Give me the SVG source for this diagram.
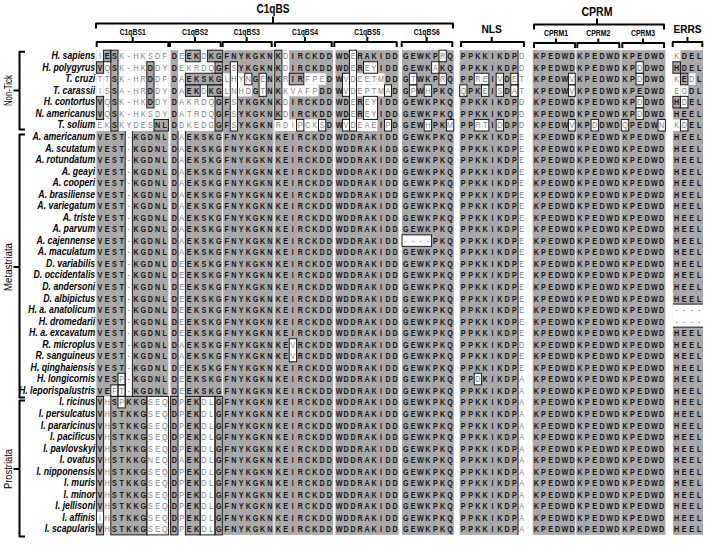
<svg xmlns="http://www.w3.org/2000/svg" xmlns:xlink="http://www.w3.org/1999/xlink" width="708" height="546" viewBox="0 0 708 546">
<style>
.g{fill:#a9a9a9}
.wb{fill:#fff}
.o{fill:none;stroke:#1a1a1a;stroke-width:1}
.s{font-family:"Liberation Sans",Arial,sans-serif;font-size:9px;font-weight:bold;fill:#151515;text-anchor:middle}
.w{fill:#808080;font-weight:normal}
.sp{font-family:"Liberation Sans",Arial,sans-serif;font-size:10.3px;font-weight:bold;font-style:italic;fill:#000;text-anchor:end}
.br{fill:none;stroke:#000;stroke-width:2;stroke-linejoin:round}
.h{font-family:"Liberation Sans",Arial,sans-serif;font-weight:bold;fill:#000;text-anchor:middle}
.gl{font-family:"Liberation Sans",Arial,sans-serif;font-size:10.5px;fill:#000;text-anchor:middle}
</style>
<defs>
<text id="ra" class="s" y="0" x="125 134 143 152 161 170 179 188 197 206 217.9 227.1 236.4 245.6 254.9 264.1 273.4 283.4 292.4 301.4 310.4 319.4 328.4 337.4 347.9 357 366.1 375.3 384.4 393.5 402.6 411.8 423.8 432.5 441.3 450 458.8 467.5 476.3 485 493.8 507.1 516.4 525.6 534.9 544.1 553.4 562.6 579.1 588.3 597.4 606.5 615.6 624.8 633.9 643 652.1 670.4 679.3 688.3 697.1 706.1 715 724.9 734.1 743.4 752.6 761.9 771.1 781.3 790.4 799.6 808.8 818 827.1 845.9 855.3 864.6 874.1">VEST<tspan class="w">-</tspan>KGDNLD<tspan class="w">A</tspan>EKSKGFNYKGKNKEIRCKDDWDDRAKIDDGEWKPKQPPKKIKDP<tspan class="w">E</tspan>KPEDWDKPEDWDKPEDWDHEEL</text>
<text id="rd" class="s" y="0" x="125 134 143 152 161 170 179 188 197 206 217.9 227.1 236.4 245.6 254.9 264.1 273.4 283.4 292.4 301.4 310.4 319.4 328.4 337.4 347.9 357 366.1 375.3 384.4 393.5 402.6 411.8 423.8 432.5 441.3 450 458.8 467.5 476.3 485 493.8 507.1 516.4 525.6 534.9 544.1 553.4 562.6 579.1 588.3 597.4 606.5 615.6 624.8 633.9 643 652.1 670.4 679.3 688.3 697.1 706.1 715 724.9 734.1 743.4 752.6 761.9 771.1 781.3 790.4 799.6 808.8 818 827.1 845.9 855.3 864.6 874.1">VEST<tspan class="w">-</tspan>KGDNLD<tspan class="w">E</tspan>EKSKGFNYKGKNKEIRCKDDWDDRAKIDDGEWKPKQPPKKIKDP<tspan class="w">E</tspan>KPEDWDKPEDWDKPEDWDHEEL</text>
<text id="ri" class="s" y="0" x="125 134 143 152 161 170 179 188 197 206 217.9 227.1 236.4 245.6 254.9 264.1 273.4 283.4 292.4 301.4 310.4 319.4 328.4 337.4 347.9 357 366.1 375.3 384.4 393.5 402.6 411.8 423.8 432.5 441.3 450 458.8 467.5 476.3 485 493.8 507.1 516.4 525.6 534.9 544.1 553.4 562.6 579.1 588.3 597.4 606.5 615.6 624.8 633.9 643 652.1 670.4 679.3 688.3 697.1 706.1 715 724.9 734.1 743.4 752.6 761.9 771.1 781.3 790.4 799.6 808.8 818 827.1 845.9 855.3 864.6 874.1">V<tspan class="w">H</tspan>STKKG<tspan class="w">SEQ</tspan>D<tspan class="w">P</tspan>EK<tspan class="w">DL</tspan>GFNYKGKNKEIRCKDDWDDRAKIDDGEWKPKQPPKKIKDP<tspan class="w">A</tspan>KPEDWDKPEDWDKPEDWDHEEL</text>
</defs>
<rect width="708" height="546" fill="#fff"/>
<g id="headers">
<text class="h" x="273" y="12.7" font-size="13" textLength="33" lengthAdjust="spacingAndGlyphs">C1qBS</text>
<text class="h" x="597" y="16" font-size="13" textLength="31" lengthAdjust="spacingAndGlyphs">CPRM</text>
<text class="h" x="491.7" y="32.5" font-size="11.5" textLength="20.5" lengthAdjust="spacingAndGlyphs">NLS</text>
<text class="h" x="687.5" y="33.3" font-size="11.5" textLength="28" lengthAdjust="spacingAndGlyphs">ERRS</text>
<g font-size="9">
<text class="h" x="132.7" y="35" textLength="26" lengthAdjust="spacingAndGlyphs">C1qBS1</text>
<text class="h" x="195" y="35" textLength="26" lengthAdjust="spacingAndGlyphs">C1qBS2</text>
<text class="h" x="246.7" y="35" textLength="26" lengthAdjust="spacingAndGlyphs">C1qBS3</text>
<text class="h" x="305" y="35" textLength="26" lengthAdjust="spacingAndGlyphs">C1qBS4</text>
<text class="h" x="367.3" y="35" textLength="26" lengthAdjust="spacingAndGlyphs">C1qBS5</text>
<text class="h" x="426.7" y="35" textLength="26" lengthAdjust="spacingAndGlyphs">C1qBS6</text>
</g>
<g font-size="8.5">
<text class="h" x="556" y="35.5" textLength="24" lengthAdjust="spacingAndGlyphs">CPRM1</text>
<text class="h" x="598.3" y="35.5" textLength="24" lengthAdjust="spacingAndGlyphs">CPRM2</text>
<text class="h" x="643" y="35.5" textLength="24" lengthAdjust="spacingAndGlyphs">CPRM3</text>
</g>
</g>
<g id="brackets" class="br">
<path d="M96,28.5 V23.5 H453 V28.5 M273,23.5 V16.5"/>
<path d="M534,29.5 V24.5 H664 V29.5 M597,24.5 V18.5"/>
<path d="M96.7,47 V42 H168.3 V47 M132.7,42 V37"/>
<path d="M170,47 V42 H220.7 V47 M195,42 V37"/>
<path d="M222.7,47 V42 H271.7 V47 M246.7,42 V37"/>
<path d="M275,47 V42 H331.7 V47 M305,42 V37"/>
<path d="M334.3,47 V42 H396.7 V47 M367.3,42 V37"/>
<path d="M401.7,47 V42 H452.3 V47 M426.7,42 V37"/>
<path d="M461,47 V42 H524 V47 M491.7,42 V37"/>
<path d="M534,48 V43 H575 V48 M556,43 V38.5"/>
<path d="M577.3,48 V43 H619.3 V48 M598.3,43 V38.5"/>
<path d="M622.3,48 V43 H664 V48 M643,43 V38.5"/>
<path d="M672.7,47 V42 H702.3 V47 M687.5,42 V37"/>
<path d="M25,51.7 H19.5 V129.5 H25 M19.5,90.6 H13.5"/>
<path d="M25,134.5 H19.5 V397.5 H25 M19.5,267 H13.5"/>
<path d="M25,400.5 H19.5 V536.5 H25 M19.5,469 H13.5"/>
</g>
<g id="groups">
<text class="gl" transform="translate(11.7,90.6) rotate(-90)" textLength="31" lengthAdjust="spacingAndGlyphs">Non-Tick</text>
<text class="gl" transform="translate(11.7,267) rotate(-90)" textLength="48" lengthAdjust="spacingAndGlyphs">Metastriata</text>
<text class="gl" transform="translate(11.7,469) rotate(-90)" textLength="40" lengthAdjust="spacingAndGlyphs">Prostriata</text>
</g>
<g id="shading">
<rect class="g" x="96.4" y="50.2" width="72" height="484.68"/>
<rect class="g" x="170.6" y="50.2" width="51.3" height="484.68"/>
<rect class="g" x="223.1" y="50.2" width="50.4" height="484.68"/>
<rect class="g" x="274.65" y="50.2" width="58.4" height="484.68"/>
<rect class="g" x="335.5" y="50.2" width="63" height="484.68"/>
<rect class="g" x="402" y="50.2" width="51.8" height="484.68"/>
<rect class="g" x="459.65" y="50.2" width="58.4" height="484.68"/>
<rect class="g" x="532.7" y="50.2" width="42.6" height="484.68"/>
<rect class="g" x="576.3" y="50.2" width="44.25" height="484.68"/>
<rect class="g" x="621.3" y="50.2" width="44.1" height="484.68"/>
<rect class="g" x="672.9" y="50.2" width="30.1" height="484.68"/>
<g class="wb">
<rect x="118" y="50.2" width="28.8" height="80.78"/>
<rect x="96.4" y="50.2" width="7.2" height="11.54"/>
<rect x="146.8" y="50.2" width="21.6" height="11.54"/>
<rect x="103.6" y="61.74" width="7.2" height="69.24"/>
<rect x="96.4" y="73.28" width="7.2" height="23.08"/>
<rect x="96.4" y="119.44" width="7.2" height="11.54"/>
<rect x="154" y="61.74" width="14.4" height="57.7"/>
<rect x="146.8" y="107.9" width="7.2" height="23.08"/>
<rect x="125.2" y="130.98" width="7.2" height="265.42"/>
<rect x="118" y="373.32" width="7.2" height="11.54"/>
<rect x="110.8" y="384.86" width="14.4" height="11.54"/>
<rect x="103.6" y="396.4" width="7.2" height="138.48"/>
<rect x="146.8" y="396.4" width="21.6" height="138.48"/>
<rect x="118" y="396.4" width="7.2" height="11.54"/>
<rect x="96.4" y="511.8" width="7.2" height="11.54"/>
<rect x="178" y="50.2" width="7.4" height="484.68"/>
<rect x="185.4" y="61.74" width="29.6" height="11.54"/>
<rect x="185.4" y="96.36" width="29.6" height="34.62"/>
<rect x="200.2" y="50.2" width="7.4" height="11.54"/>
<rect x="200.2" y="84.82" width="7.4" height="11.54"/>
<rect x="200.2" y="396.4" width="14.8" height="138.48"/>
<rect x="230.3" y="61.74" width="7.2" height="69.24"/>
<rect x="223.1" y="73.28" width="28.8" height="23.08"/>
<rect x="259.1" y="73.28" width="7.2" height="23.08"/>
<rect x="281.95" y="50.2" width="7.3" height="80.78"/>
<rect x="303.85" y="73.28" width="21.9" height="11.54"/>
<rect x="281.95" y="84.82" width="36.5" height="11.54"/>
<rect x="274.65" y="119.44" width="51.1" height="11.54"/>
<rect x="289.25" y="338.7" width="7.3" height="23.08"/>
<rect x="349.5" y="50.2" width="7" height="80.78"/>
<rect x="363.5" y="61.74" width="14" height="11.54"/>
<rect x="363.5" y="96.36" width="14" height="23.08"/>
<rect x="342.5" y="73.28" width="42" height="11.54"/>
<rect x="342.5" y="84.82" width="49" height="11.54"/>
<rect x="342.5" y="119.44" width="35" height="11.54"/>
<rect x="384.5" y="119.44" width="7" height="11.54"/>
<rect x="439" y="50.2" width="7.4" height="11.54"/>
<rect x="431.6" y="61.74" width="7.4" height="11.54"/>
<rect x="409.4" y="73.28" width="7.4" height="23.08"/>
<rect x="439" y="73.28" width="7.4" height="11.54"/>
<rect x="424.2" y="84.82" width="7.4" height="11.54"/>
<rect x="424.2" y="119.44" width="7.4" height="11.54"/>
<rect x="446.4" y="119.44" width="7.4" height="11.54"/>
<rect x="402" y="234.84" width="29.6" height="11.54"/>
<rect x="474.25" y="73.28" width="7.3" height="11.54"/>
<rect x="481.55" y="73.28" width="7.3" height="23.08"/>
<rect x="496.15" y="73.28" width="7.3" height="23.08"/>
<rect x="510.75" y="73.28" width="7.3" height="23.08"/>
<rect x="459.65" y="84.82" width="7.3" height="11.54"/>
<rect x="474.25" y="119.44" width="14.6" height="11.54"/>
<rect x="496.15" y="119.44" width="7.3" height="11.54"/>
<rect x="474.25" y="373.32" width="7.3" height="11.54"/>
<rect x="568.45" y="73.28" width="6.85" height="23.08"/>
<rect x="568.45" y="119.44" width="6.85" height="11.54"/>
<rect x="591.05" y="119.44" width="7.35" height="11.54"/>
<rect x="636" y="61.74" width="7.35" height="23.08"/>
<rect x="636" y="96.36" width="7.35" height="23.08"/>
<rect x="621.3" y="119.44" width="7.35" height="11.54"/>
<rect x="658.05" y="119.44" width="7.35" height="11.54"/>
<rect x="672.9" y="50.2" width="7.53" height="11.54"/>
<rect x="672.9" y="73.28" width="7.53" height="23.08"/>
<rect x="687.96" y="73.28" width="7.53" height="11.54"/>
<rect x="680.43" y="84.82" width="7.53" height="11.54"/>
<rect x="680.43" y="96.36" width="7.53" height="11.54"/>
<rect x="672.9" y="119.44" width="15.06" height="11.54"/>
<rect x="672.9" y="304.08" width="30.1" height="23.08"/>
</g>
</g>
<g id="outlines" class="o">
<rect x="103.6" y="50.2" width="7.2" height="11.54"/>
<rect x="110.8" y="50.2" width="7.2" height="80.78"/>
<rect x="96.4" y="61.74" width="7.2" height="11.54"/>
<rect x="96.4" y="96.36" width="7.2" height="23.08"/>
<rect x="146.8" y="61.74" width="7.2" height="46.16"/>
<rect x="154" y="119.44" width="14.4" height="11.54"/>
<rect x="185.4" y="50.2" width="14.8" height="11.54"/>
<rect x="207.6" y="50.2" width="14.8" height="11.54"/>
<rect x="185.4" y="73.28" width="37" height="11.54"/>
<rect x="185.4" y="84.82" width="14.8" height="11.54"/>
<rect x="207.6" y="84.82" width="14.8" height="11.54"/>
<rect x="215" y="61.74" width="7.4" height="11.54"/>
<rect x="215" y="96.36" width="7.4" height="34.62"/>
<path d="M178,130.98 V396.4 M185.4,130.98 V396.4 M125.2,130.98 V396.4 M132.4,130.98 V396.4 M518.05,50.2 V534.88 M672.9,304.08 H703 M672.9,327.16 H703"/>
<rect x="230.3" y="61.74" width="7.2" height="69.24"/>
<rect x="244.7" y="73.28" width="7.2" height="11.54"/>
<rect x="259.1" y="73.28" width="7.2" height="23.08"/>
<rect x="274.65" y="50.2" width="7.3" height="69.24"/>
<rect x="289.25" y="73.28" width="14.6" height="11.54"/>
<rect x="296.55" y="119.44" width="7.3" height="11.54"/>
<rect x="318.45" y="119.44" width="7.3" height="11.54"/>
<rect x="289.25" y="338.7" width="7.3" height="23.08"/>
<rect x="349.5" y="50.2" width="7" height="80.78"/>
<rect x="363.5" y="61.74" width="14" height="11.54"/>
<rect x="363.5" y="96.36" width="14" height="23.08"/>
<rect x="342.5" y="73.28" width="7" height="23.08"/>
<rect x="384.5" y="84.82" width="7" height="11.54"/>
<rect x="342.5" y="119.44" width="7" height="11.54"/>
<rect x="384.5" y="119.44" width="7" height="11.54"/>
<rect x="439" y="50.2" width="7.4" height="11.54"/>
<rect x="431.6" y="61.74" width="7.4" height="11.54"/>
<rect x="409.4" y="73.28" width="7.4" height="11.54"/>
<rect x="439" y="73.28" width="7.4" height="11.54"/>
<rect x="409.4" y="84.82" width="7.4" height="11.54"/>
<rect x="424.2" y="84.82" width="7.4" height="11.54"/>
<rect x="424.2" y="119.44" width="7.4" height="11.54"/>
<rect x="446.4" y="119.44" width="7.4" height="11.54"/>
<rect x="402" y="234.84" width="29.6" height="11.54"/>
<rect x="474.25" y="73.28" width="14.6" height="11.54"/>
<rect x="496.15" y="73.28" width="7.3" height="11.54"/>
<rect x="510.75" y="73.28" width="7.3" height="11.54"/>
<rect x="459.65" y="84.82" width="7.3" height="11.54"/>
<rect x="481.55" y="84.82" width="7.3" height="11.54"/>
<rect x="496.15" y="84.82" width="7.3" height="11.54"/>
<rect x="510.75" y="84.82" width="7.3" height="11.54"/>
<rect x="474.25" y="119.44" width="14.6" height="11.54"/>
<rect x="496.15" y="119.44" width="7.3" height="11.54"/>
<rect x="474.25" y="373.32" width="7.3" height="11.54"/>
<rect x="568.45" y="73.28" width="6.85" height="11.54"/>
<rect x="568.45" y="84.82" width="6.85" height="11.54"/>
<rect x="568.45" y="119.44" width="6.85" height="11.54"/>
<rect x="591.05" y="119.44" width="7.35" height="11.54"/>
<rect x="636" y="61.74" width="7.35" height="11.54"/>
<rect x="636" y="73.28" width="7.35" height="11.54"/>
<rect x="636" y="96.36" width="7.35" height="11.54"/>
<rect x="636" y="107.9" width="7.35" height="11.54"/>
<rect x="621.3" y="119.44" width="7.35" height="11.54"/>
<rect x="658.05" y="119.44" width="7.35" height="11.54"/>
<rect x="672.9" y="61.74" width="7.53" height="11.54"/>
<rect x="680.43" y="73.28" width="7.53" height="11.54"/>
<rect x="672.9" y="96.36" width="7.53" height="11.54"/>
<rect x="680.43" y="96.36" width="7.53" height="11.54"/>
<rect x="680.43" y="119.44" width="7.53" height="11.54"/>
<rect x="118" y="373.32" width="7.2" height="11.54"/>
<rect x="110.8" y="384.86" width="7.2" height="11.54"/>
<rect x="118" y="384.86" width="7.2" height="11.54"/>
<rect x="96.4" y="396.4" width="7.2" height="138.48"/>
<rect x="110.8" y="396.4" width="36" height="138.48"/>
<rect x="146.8" y="396.4" width="21.6" height="138.48"/>
<rect x="118" y="396.4" width="7.2" height="11.54"/>
<rect x="170.6" y="396.4" width="7.4" height="138.48"/>
<rect x="185.4" y="396.4" width="14.8" height="138.48"/>
<rect x="200.2" y="396.4" width="14.8" height="138.48"/>
<rect x="215" y="396.4" width="7.4" height="138.48"/>
</g>
<g id="species" class="sp" transform="scale(0.85 1)">
<text x="112" y="59.3">H. sapiens</text>
<text x="112" y="70.8">H. polygyrus</text>
<text x="112" y="82.4">T. cruzi</text>
<text x="112" y="93.9">T. carassii</text>
<text x="112" y="105.4">H. contortus</text>
<text x="112" y="117">N. americanus</text>
<text x="112" y="128.5">T. solium</text>
<text x="112" y="140.1">A. americanum</text>
<text x="112" y="151.6">A. scutatum</text>
<text x="112" y="163.1">A. rotundatum</text>
<text x="112" y="174.7">A. geayi</text>
<text x="112" y="186.2">A. cooperi</text>
<text x="112" y="197.8">A. brasiliense</text>
<text x="112" y="209.3">A. variegatum</text>
<text x="112" y="220.8">A. triste</text>
<text x="112" y="232.4">A. parvum</text>
<text x="112" y="243.9">A. cajennense</text>
<text x="112" y="255.5">A. maculatum</text>
<text x="112" y="267">D. variabilis</text>
<text x="112" y="278.5">D. occidentalis</text>
<text x="112" y="290.1">D. andersoni</text>
<text x="112" y="301.6">D. albipictus</text>
<text x="112" y="313.2">H. a. anatolicum</text>
<text x="112" y="324.7">H. dromedarii</text>
<text x="112" y="336.2">H. a. excavatum</text>
<text x="112" y="347.8">R. microplus</text>
<text x="112" y="359.3">R. sanguineus</text>
<text x="112" y="370.9">H. qinghaiensis</text>
<text x="112" y="382.4">H. longicornis</text>
<text x="112" y="393.9">H. leporispalustris</text>
<text x="112" y="405.5">I. ricinus</text>
<text x="112" y="417">I. persulcatus</text>
<text x="112" y="428.6">I. pararicinus</text>
<text x="112" y="440.1">I. pacificus</text>
<text x="112" y="451.6">I. pavlovskyi</text>
<text x="112" y="463.2">I. ovatus</text>
<text x="112" y="474.7">I. nipponensis</text>
<text x="112" y="486.3">I. muris</text>
<text x="112" y="497.8">I. minor</text>
<text x="112" y="509.3">I. jellisoni</text>
<text x="112" y="520.9">I. affinis</text>
<text x="112" y="532.4">I. scapularis</text>
</g>
<g id="residues" transform="scale(0.8 1)">
<text class="s" y="59.2" x="125 134 143 152 161 170 179 188 197 206 217.9 227.1 236.4 245.6 254.9 264.1 273.4 283.4 292.4 301.4 310.4 319.4 328.4 337.4 347.9 357 366.1 375.3 384.4 393.5 402.6 411.8 423.8 432.5 441.3 450 458.8 467.5 476.3 485 493.8 507.1 516.4 525.6 534.9 544.1 553.4 562.6 579.1 588.3 597.4 606.5 615.6 624.8 633.9 643 652.1 670.4 679.3 688.3 697.1 706.1 715 724.9 734.1 743.4 752.6 761.9 771.1 781.3 790.4 799.6 808.8 818 827.1 845.9 855.3 864.6 874.1"><tspan class="w">I</tspan>ES<tspan class="w">K-HKSDF</tspan>D<tspan class="w">E</tspan>EK<tspan class="w">D</tspan>KGFNYKGKNK<tspan class="w">D</tspan>IRCKDDWD<tspan class="w">E</tspan>RAKIDDGEWKP<tspan class="w">R</tspan>QPPKKIKDP<tspan class="w">D</tspan>KPEDWDKPEDWDKPEDWD<tspan class="w">K</tspan>DEL</text>
<text class="s" y="70.7" x="125 134 143 152 161 170 179 188 197 206 217.9 227.1 236.4 245.6 254.9 264.1 273.4 283.4 292.4 301.4 310.4 319.4 328.4 337.4 347.9 357 366.1 375.3 384.4 393.5 402.6 411.8 423.8 432.5 441.3 450 458.8 467.5 476.3 485 493.8 507.1 516.4 525.6 534.9 544.1 553.4 562.6 579.1 588.3 597.4 606.5 615.6 624.8 633.9 643 652.1 670.4 679.3 688.3 697.1 706.1 715 724.9 734.1 743.4 752.6 761.9 771.1 781.3 790.4 799.6 808.8 818 827.1 845.9 855.3 864.6 874.1">V<tspan class="w">Q</tspan>S<tspan class="w">K-HK</tspan>D<tspan class="w">DY</tspan>D<tspan class="w">EKRDQ</tspan>GF<tspan class="w">S</tspan>YKGKNK<tspan class="w">D</tspan>IRCKDDWD<tspan class="w">E</tspan>R<tspan class="w">EY</tspan>IDDGEWK<tspan class="w">A</tspan>KQPPKKIKDP<tspan class="w">D</tspan>KPEDWDKPEDWDKP<tspan class="w">D</tspan>DWDHDEL</text>
<text class="s" y="82.3" x="125 134 143 152 161 170 179 188 197 206 217.9 227.1 236.4 245.6 254.9 264.1 273.4 283.4 292.4 301.4 310.4 319.4 328.4 337.4 347.9 357 366.1 375.3 384.4 393.5 402.6 411.8 423.8 432.5 441.3 450 458.8 467.5 476.3 485 493.8 507.1 516.4 525.6 534.9 544.1 553.4 562.6 579.1 588.3 597.4 606.5 615.6 624.8 633.9 643 652.1 670.4 679.3 688.3 697.1 706.1 715 724.9 734.1 743.4 752.6 761.9 771.1 781.3 790.4 799.6 808.8 818 827.1 845.9 855.3 864.6 874.1"><tspan class="w">TT</tspan>S<tspan class="w">K-HR</tspan>D<tspan class="w">DF</tspan>D<tspan class="w">A</tspan>EKSKG<tspan class="w">LHYN</tspan>G<tspan class="w">E</tspan>NK<tspan class="w">R</tspan>IR<tspan class="w">FPE</tspan>DW<tspan class="w">VDEETM</tspan>DDG<tspan class="w">T</tspan>WKP<tspan class="w">R</tspan>QPP<tspan class="w">RE</tspan>I<tspan class="w">V</tspan>D<tspan class="w">ET</tspan>KPEDW<tspan class="w">V</tspan>KPEDWDKP<tspan class="w">D</tspan>DWD<tspan class="w">K</tspan>E<tspan class="w">D</tspan>L</text>
<text class="s" y="93.8" x="125 134 143 152 161 170 179 188 197 206 217.9 227.1 236.4 245.6 254.9 264.1 273.4 283.4 292.4 301.4 310.4 319.4 328.4 337.4 347.9 357 366.1 375.3 384.4 393.5 402.6 411.8 423.8 432.5 441.3 450 458.8 467.5 476.3 485 493.8 507.1 516.4 525.6 534.9 544.1 553.4 562.6 579.1 588.3 597.4 606.5 615.6 624.8 633.9 643 652.1 670.4 679.3 688.3 697.1 706.1 715 724.9 734.1 743.4 752.6 761.9 771.1 781.3 790.4 799.6 808.8 818 827.1 845.9 855.3 864.6 874.1"><tspan class="w">IS</tspan>S<tspan class="w">A-HR</tspan>D<tspan class="w">DY</tspan>D<tspan class="w">A</tspan>EK<tspan class="w">D</tspan>KG<tspan class="w">LNHD</tspan>G<tspan class="w">T</tspan>NK<tspan class="w">KVAFP</tspan>DDW<tspan class="w">VDEPTMA</tspan>DG<tspan class="w">P</tspan>W<tspan class="w">H</tspan>PKQ<tspan class="w">Q</tspan>PK<tspan class="w">E</tspan>I<tspan class="w">S</tspan>D<tspan class="w">AT</tspan>KPEDW<tspan class="w">V</tspan>KPEDWDKPEDWD<tspan class="w">EG</tspan>DL</text>
<text class="s" y="105.3" x="125 134 143 152 161 170 179 188 197 206 217.9 227.1 236.4 245.6 254.9 264.1 273.4 283.4 292.4 301.4 310.4 319.4 328.4 337.4 347.9 357 366.1 375.3 384.4 393.5 402.6 411.8 423.8 432.5 441.3 450 458.8 467.5 476.3 485 493.8 507.1 516.4 525.6 534.9 544.1 553.4 562.6 579.1 588.3 597.4 606.5 615.6 624.8 633.9 643 652.1 670.4 679.3 688.3 697.1 706.1 715 724.9 734.1 743.4 752.6 761.9 771.1 781.3 790.4 799.6 808.8 818 827.1 845.9 855.3 864.6 874.1">V<tspan class="w">Q</tspan>S<tspan class="w">K-HK</tspan>D<tspan class="w">DY</tspan>D<tspan class="w">AKRDQ</tspan>GF<tspan class="w">S</tspan>YKGKNK<tspan class="w">D</tspan>IRCKDDWD<tspan class="w">E</tspan>R<tspan class="w">EY</tspan>IDDGEWKPKQPPKKIKDP<tspan class="w">D</tspan>KPEDWDKPEDWDKP<tspan class="w">D</tspan>DWDH<tspan class="w">D</tspan>EL</text>
<text class="s" y="116.9" x="125 134 143 152 161 170 179 188 197 206 217.9 227.1 236.4 245.6 254.9 264.1 273.4 283.4 292.4 301.4 310.4 319.4 328.4 337.4 347.9 357 366.1 375.3 384.4 393.5 402.6 411.8 423.8 432.5 441.3 450 458.8 467.5 476.3 485 493.8 507.1 516.4 525.6 534.9 544.1 553.4 562.6 579.1 588.3 597.4 606.5 615.6 624.8 633.9 643 652.1 670.4 679.3 688.3 697.1 706.1 715 724.9 734.1 743.4 752.6 761.9 771.1 781.3 790.4 799.6 808.8 818 827.1 845.9 855.3 864.6 874.1">V<tspan class="w">Q</tspan>S<tspan class="w">K-HKSDY</tspan>D<tspan class="w">ATRDQ</tspan>GF<tspan class="w">S</tspan>YKGKNK<tspan class="w">D</tspan>IRCKDDWD<tspan class="w">E</tspan>R<tspan class="w">EY</tspan>IDDGEWKPKQPPKKIKDP<tspan class="w">D</tspan>KPEDWDKPEDWDKP<tspan class="w">D</tspan>DWDHEEL</text>
<text class="s" y="128.4" x="125 134 143 152 161 170 179 188 197 206 217.9 227.1 236.4 245.6 254.9 264.1 273.4 283.4 292.4 301.4 310.4 319.4 328.4 337.4 347.9 357 366.1 375.3 384.4 393.5 402.6 411.8 423.8 432.5 441.3 450 458.8 467.5 476.3 485 493.8 507.1 516.4 525.6 534.9 544.1 553.4 562.6 579.1 588.3 597.4 606.5 615.6 624.8 633.9 643 652.1 670.4 679.3 688.3 697.1 706.1 715 724.9 734.1 743.4 752.6 761.9 771.1 781.3 790.4 799.6 808.8 818 827.1 845.9 855.3 864.6 874.1"><tspan class="w">EK</tspan>S<tspan class="w">KYDES</tspan>NLD<tspan class="w">DKEDG</tspan>GF<tspan class="w">S</tspan>YKGKN<tspan class="w">RDIPCKS</tspan>DW<tspan class="w">VDEAE</tspan>I<tspan class="w">P</tspan>DGEW<tspan class="w">H</tspan>PK<tspan class="w">M</tspan>PP<tspan class="w">RT</tspan>I<tspan class="w">D</tspan>DP<tspan class="w">D</tspan>KPEDW<tspan class="w">V</tspan>KP<tspan class="w">D</tspan>DWD<tspan class="w">Q</tspan>PEDW<tspan class="w">N</tspan><tspan class="w">KD</tspan>EL</text>
<use xlink:href="#ra" y="140"/>
<use xlink:href="#ra" y="151.5"/>
<use xlink:href="#ra" y="163"/>
<use xlink:href="#ra" y="174.6"/>
<use xlink:href="#ra" y="186.1"/>
<use xlink:href="#ra" y="197.7"/>
<use xlink:href="#ra" y="209.2"/>
<use xlink:href="#ra" y="220.7"/>
<use xlink:href="#ra" y="232.3"/>
<text class="s" y="243.8" x="125 134 143 152 161 170 179 188 197 206 217.9 227.1 236.4 245.6 254.9 264.1 273.4 283.4 292.4 301.4 310.4 319.4 328.4 337.4 347.9 357 366.1 375.3 384.4 393.5 402.6 411.8 423.8 432.5 441.3 450 458.8 467.5 476.3 485 493.8 507.1 516.4 525.6 534.9 544.1 553.4 562.6 579.1 588.3 597.4 606.5 615.6 624.8 633.9 643 652.1 670.4 679.3 688.3 697.1 706.1 715 724.9 734.1 743.4 752.6 761.9 771.1 781.3 790.4 799.6 808.8 818 827.1 845.9 855.3 864.6 874.1">VEST<tspan class="w">-</tspan>KGDNLD<tspan class="w">A</tspan>EKSKGFNYKGKNKEIRCKDDWDDRAKIDD<tspan class="w">----</tspan>PKQPPKKIKDP<tspan class="w">E</tspan>KPEDWDKPEDWDKPEDWDHEEL</text>
<use xlink:href="#ra" y="255.4"/>
<use xlink:href="#rd" y="266.9"/>
<use xlink:href="#rd" y="278.4"/>
<use xlink:href="#rd" y="290"/>
<use xlink:href="#rd" y="301.5"/>
<text class="s" y="313.1" x="125 134 143 152 161 170 179 188 197 206 217.9 227.1 236.4 245.6 254.9 264.1 273.4 283.4 292.4 301.4 310.4 319.4 328.4 337.4 347.9 357 366.1 375.3 384.4 393.5 402.6 411.8 423.8 432.5 441.3 450 458.8 467.5 476.3 485 493.8 507.1 516.4 525.6 534.9 544.1 553.4 562.6 579.1 588.3 597.4 606.5 615.6 624.8 633.9 643 652.1 670.4 679.3 688.3 697.1 706.1 715 724.9 734.1 743.4 752.6 761.9 771.1 781.3 790.4 799.6 808.8 818 827.1 845.9 855.3 864.6 874.1">VEST<tspan class="w">-</tspan>KGDNLD<tspan class="w">E</tspan>EKSKGFNYKGKNKEIRCKDDWDDRAKIDDGEWKPKQPPKKIKDP<tspan class="w">E</tspan>KPEDWDKPEDWDKPEDWD<tspan class="w">----</tspan></text>
<text class="s" y="324.6" x="125 134 143 152 161 170 179 188 197 206 217.9 227.1 236.4 245.6 254.9 264.1 273.4 283.4 292.4 301.4 310.4 319.4 328.4 337.4 347.9 357 366.1 375.3 384.4 393.5 402.6 411.8 423.8 432.5 441.3 450 458.8 467.5 476.3 485 493.8 507.1 516.4 525.6 534.9 544.1 553.4 562.6 579.1 588.3 597.4 606.5 615.6 624.8 633.9 643 652.1 670.4 679.3 688.3 697.1 706.1 715 724.9 734.1 743.4 752.6 761.9 771.1 781.3 790.4 799.6 808.8 818 827.1 845.9 855.3 864.6 874.1">VEST<tspan class="w">-</tspan>KGDNLD<tspan class="w">E</tspan>EKSKGFNYKGKNKEIRCKDDWDDRAKIDDGEWKPKQPPKKIKDP<tspan class="w">E</tspan>KPEDWDKPEDWDKPEDWD<tspan class="w">----</tspan></text>
<use xlink:href="#rd" y="336.1"/>
<text class="s" y="347.7" x="125 134 143 152 161 170 179 188 197 206 217.9 227.1 236.4 245.6 254.9 264.1 273.4 283.4 292.4 301.4 310.4 319.4 328.4 337.4 347.9 357 366.1 375.3 384.4 393.5 402.6 411.8 423.8 432.5 441.3 450 458.8 467.5 476.3 485 493.8 507.1 516.4 525.6 534.9 544.1 553.4 562.6 579.1 588.3 597.4 606.5 615.6 624.8 633.9 643 652.1 670.4 679.3 688.3 697.1 706.1 715 724.9 734.1 743.4 752.6 761.9 771.1 781.3 790.4 799.6 808.8 818 827.1 845.9 855.3 864.6 874.1">VEST<tspan class="w">-</tspan>KGDNLD<tspan class="w">A</tspan>EKSKGFNYKGKNKE<tspan class="w">V</tspan>RCKDDWDDRAKIDDGEWKPKQPPKKIKDP<tspan class="w">D</tspan>KPEDWDKPEDWDKPEDWDHEEL</text>
<text class="s" y="359.2" x="125 134 143 152 161 170 179 188 197 206 217.9 227.1 236.4 245.6 254.9 264.1 273.4 283.4 292.4 301.4 310.4 319.4 328.4 337.4 347.9 357 366.1 375.3 384.4 393.5 402.6 411.8 423.8 432.5 441.3 450 458.8 467.5 476.3 485 493.8 507.1 516.4 525.6 534.9 544.1 553.4 562.6 579.1 588.3 597.4 606.5 615.6 624.8 633.9 643 652.1 670.4 679.3 688.3 697.1 706.1 715 724.9 734.1 743.4 752.6 761.9 771.1 781.3 790.4 799.6 808.8 818 827.1 845.9 855.3 864.6 874.1">VEST<tspan class="w">-</tspan>KGDNLD<tspan class="w">A</tspan>EKSKGFNYKGKNKE<tspan class="w">V</tspan>RCKDDWDDRAKIDDGEWKPKQPPKKIKDP<tspan class="w">E</tspan>KPEDWDKPEDWDKPEDWDHEEL</text>
<use xlink:href="#rd" y="370.8"/>
<text class="s" y="382.3" x="125 134 143 152 161 170 179 188 197 206 217.9 227.1 236.4 245.6 254.9 264.1 273.4 283.4 292.4 301.4 310.4 319.4 328.4 337.4 347.9 357 366.1 375.3 384.4 393.5 402.6 411.8 423.8 432.5 441.3 450 458.8 467.5 476.3 485 493.8 507.1 516.4 525.6 534.9 544.1 553.4 562.6 579.1 588.3 597.4 606.5 615.6 624.8 633.9 643 652.1 670.4 679.3 688.3 697.1 706.1 715 724.9 734.1 743.4 752.6 761.9 771.1 781.3 790.4 799.6 808.8 818 827.1 845.9 855.3 864.6 874.1">VES<tspan class="w">P-</tspan>KGDNLD<tspan class="w">E</tspan>EKSKGFNYKGKNKEIRCKDDWDDRAKIDDGEWKPKQPP<tspan class="w">D</tspan>KIKDP<tspan class="w">A</tspan>KPEDWDKPEDWDKPEDWDHEEL</text>
<text class="s" y="393.8" x="125 134 143 152 161 170 179 188 197 206 217.9 227.1 236.4 245.6 254.9 264.1 273.4 283.4 292.4 301.4 310.4 319.4 328.4 337.4 347.9 357 366.1 375.3 384.4 393.5 402.6 411.8 423.8 432.5 441.3 450 458.8 467.5 476.3 485 493.8 507.1 516.4 525.6 534.9 544.1 553.4 562.6 579.1 588.3 597.4 606.5 615.6 624.8 633.9 643 652.1 670.4 679.3 688.3 697.1 706.1 715 724.9 734.1 743.4 752.6 761.9 771.1 781.3 790.4 799.6 808.8 818 827.1 845.9 855.3 864.6 874.1">VE<tspan class="w">FT-</tspan>KGDNLD<tspan class="w">E</tspan>EKSKGFNYKGKNKEIRCKDDWDDRAKIDDGEWKPKQPPKKIKDP<tspan class="w">A</tspan>KPEDWDKPEDWDKPEDWDHEEL</text>
<text class="s" y="405.4" x="125 134 143 152 161 170 179 188 197 206 217.9 227.1 236.4 245.6 254.9 264.1 273.4 283.4 292.4 301.4 310.4 319.4 328.4 337.4 347.9 357 366.1 375.3 384.4 393.5 402.6 411.8 423.8 432.5 441.3 450 458.8 467.5 476.3 485 493.8 507.1 516.4 525.6 534.9 544.1 553.4 562.6 579.1 588.3 597.4 606.5 615.6 624.8 633.9 643 652.1 670.4 679.3 688.3 697.1 706.1 715 724.9 734.1 743.4 752.6 761.9 771.1 781.3 790.4 799.6 808.8 818 827.1 845.9 855.3 864.6 874.1">V<tspan class="w">H</tspan>S<tspan class="w">P</tspan>KKG<tspan class="w">SEQ</tspan>D<tspan class="w">P</tspan>EK<tspan class="w">DL</tspan>GFNYKGKNKEIRCKDDWDDRAKIDDGEWKPKQPPKKIKDP<tspan class="w">A</tspan>KPEDWDKPEDWDKPEDWDHEEL</text>
<use xlink:href="#ri" y="416.9"/>
<use xlink:href="#ri" y="428.5"/>
<use xlink:href="#ri" y="440"/>
<use xlink:href="#ri" y="451.5"/>
<text class="s" y="463.1" x="125 134 143 152 161 170 179 188 197 206 217.9 227.1 236.4 245.6 254.9 264.1 273.4 283.4 292.4 301.4 310.4 319.4 328.4 337.4 347.9 357 366.1 375.3 384.4 393.5 402.6 411.8 423.8 432.5 441.3 450 458.8 467.5 476.3 485 493.8 507.1 516.4 525.6 534.9 544.1 553.4 562.6 579.1 588.3 597.4 606.5 615.6 624.8 633.9 643 652.1 670.4 679.3 688.3 697.1 706.1 715 724.9 734.1 743.4 752.6 761.9 771.1 781.3 790.4 799.6 808.8 818 827.1 845.9 855.3 864.6 874.1">V<tspan class="w">H</tspan>STKKG<tspan class="w">NEQ</tspan>D<tspan class="w">A</tspan>EK<tspan class="w">DL</tspan>GFNYKGKNKEIRCKDDWDDRAKIDDGEWKPKQPPKKIKDP<tspan class="w">A</tspan>KPEDWDKPEDWDKPEDWDHEEL</text>
<use xlink:href="#ri" y="474.6"/>
<use xlink:href="#ri" y="486.2"/>
<use xlink:href="#ri" y="497.7"/>
<use xlink:href="#ri" y="509.2"/>
<text class="s" y="520.8" x="125 134 143 152 161 170 179 188 197 206 217.9 227.1 236.4 245.6 254.9 264.1 273.4 283.4 292.4 301.4 310.4 319.4 328.4 337.4 347.9 357 366.1 375.3 384.4 393.5 402.6 411.8 423.8 432.5 441.3 450 458.8 467.5 476.3 485 493.8 507.1 516.4 525.6 534.9 544.1 553.4 562.6 579.1 588.3 597.4 606.5 615.6 624.8 633.9 643 652.1 670.4 679.3 688.3 697.1 706.1 715 724.9 734.1 743.4 752.6 761.9 771.1 781.3 790.4 799.6 808.8 818 827.1 845.9 855.3 864.6 874.1"><tspan class="w">IH</tspan>STKKG<tspan class="w">SEQ</tspan>D<tspan class="w">P</tspan>EK<tspan class="w">DL</tspan>GFNYKGKNKEIRCKDDWDDRAKIDDGEWKPKQPPKKIKDP<tspan class="w">A</tspan>KPEDWDKPEDWDKPEDWDHEEL</text>
<use xlink:href="#ri" y="532.3"/>
</g>
</svg>
